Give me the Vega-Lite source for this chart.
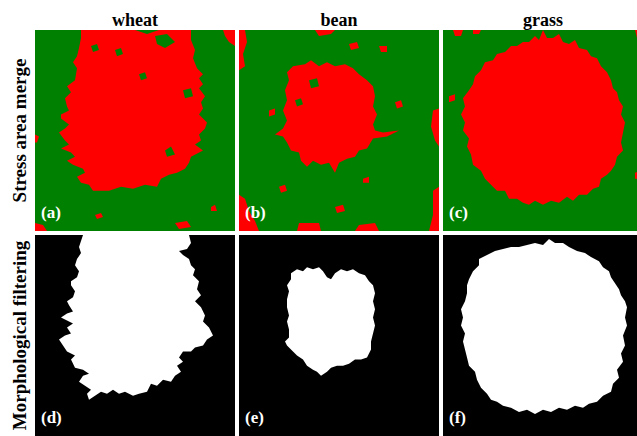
{
  "$schema": "https://vega.github.io/schema/vega-lite/v6.json",
  "background": "white",
  "padding": {"left": 10, "top": 12, "right": 0, "bottom": 0},
  "datasets": {
    "shapes": [
      {"shape": "bgA", "stage": "Stress area merge", "crop": "wheat", "layer": "bg", "cls": "healthy"},
      {"shape": "bgB", "stage": "Stress area merge", "crop": "bean", "layer": "bg", "cls": "healthy"},
      {"shape": "bgC", "stage": "Stress area merge", "crop": "grass", "layer": "bg", "cls": "healthy"},
      {"shape": "bgD", "stage": "Morphological filtering", "crop": "wheat", "layer": "bg", "cls": "background"},
      {"shape": "bgE", "stage": "Morphological filtering", "crop": "bean", "layer": "bg", "cls": "background"},
      {"shape": "bgF", "stage": "Morphological filtering", "crop": "grass", "layer": "bg", "cls": "background"},
      {"shape": "blobA", "stage": "Stress area merge", "crop": "wheat", "layer": "blob", "cls": "stressed"},
      {"shape": "blobB", "stage": "Stress area merge", "crop": "bean", "layer": "blob", "cls": "stressed"},
      {"shape": "blobC", "stage": "Stress area merge", "crop": "grass", "layer": "blob", "cls": "stressed"},
      {"shape": "blobD", "stage": "Morphological filtering", "crop": "wheat", "layer": "blob", "cls": "foreground"},
      {"shape": "blobE", "stage": "Morphological filtering", "crop": "bean", "layer": "blob", "cls": "foreground"},
      {"shape": "blobF", "stage": "Morphological filtering", "crop": "grass", "layer": "blob", "cls": "foreground"},
      {"shape": "sA1", "stage": "Stress area merge", "crop": "wheat", "layer": "speck", "cls": "stressed"},
      {"shape": "sA2", "stage": "Stress area merge", "crop": "wheat", "layer": "speck", "cls": "stressed"},
      {"shape": "sA3", "stage": "Stress area merge", "crop": "wheat", "layer": "speck", "cls": "stressed"},
      {"shape": "sA4", "stage": "Stress area merge", "crop": "wheat", "layer": "speck", "cls": "stressed"},
      {"shape": "sA5", "stage": "Stress area merge", "crop": "wheat", "layer": "speck", "cls": "stressed"},
      {"shape": "sA6", "stage": "Stress area merge", "crop": "wheat", "layer": "speck", "cls": "stressed"},
      {"shape": "hA1", "stage": "Stress area merge", "crop": "wheat", "layer": "speck", "cls": "healthy"},
      {"shape": "hA2", "stage": "Stress area merge", "crop": "wheat", "layer": "speck", "cls": "healthy"},
      {"shape": "hA3", "stage": "Stress area merge", "crop": "wheat", "layer": "speck", "cls": "healthy"},
      {"shape": "hA4", "stage": "Stress area merge", "crop": "wheat", "layer": "speck", "cls": "healthy"},
      {"shape": "hA5", "stage": "Stress area merge", "crop": "wheat", "layer": "speck", "cls": "healthy"},
      {"shape": "hA6", "stage": "Stress area merge", "crop": "wheat", "layer": "speck", "cls": "healthy"},
      {"shape": "sB1", "stage": "Stress area merge", "crop": "bean", "layer": "speck", "cls": "stressed"},
      {"shape": "sB2", "stage": "Stress area merge", "crop": "bean", "layer": "speck", "cls": "stressed"},
      {"shape": "sB3", "stage": "Stress area merge", "crop": "bean", "layer": "speck", "cls": "stressed"},
      {"shape": "sB4", "stage": "Stress area merge", "crop": "bean", "layer": "speck", "cls": "stressed"},
      {"shape": "sB5", "stage": "Stress area merge", "crop": "bean", "layer": "speck", "cls": "stressed"},
      {"shape": "sB6", "stage": "Stress area merge", "crop": "bean", "layer": "speck", "cls": "stressed"},
      {"shape": "sB7", "stage": "Stress area merge", "crop": "bean", "layer": "speck", "cls": "stressed"},
      {"shape": "sB8", "stage": "Stress area merge", "crop": "bean", "layer": "speck", "cls": "stressed"},
      {"shape": "sB9", "stage": "Stress area merge", "crop": "bean", "layer": "speck", "cls": "stressed"},
      {"shape": "sB10", "stage": "Stress area merge", "crop": "bean", "layer": "speck", "cls": "stressed"},
      {"shape": "sB11", "stage": "Stress area merge", "crop": "bean", "layer": "speck", "cls": "stressed"},
      {"shape": "sB12", "stage": "Stress area merge", "crop": "bean", "layer": "speck", "cls": "stressed"},
      {"shape": "sB13", "stage": "Stress area merge", "crop": "bean", "layer": "speck", "cls": "stressed"},
      {"shape": "sB14", "stage": "Stress area merge", "crop": "bean", "layer": "speck", "cls": "stressed"},
      {"shape": "hB1", "stage": "Stress area merge", "crop": "bean", "layer": "speck", "cls": "healthy"},
      {"shape": "hB2", "stage": "Stress area merge", "crop": "bean", "layer": "speck", "cls": "healthy"},
      {"shape": "sC1", "stage": "Stress area merge", "crop": "grass", "layer": "speck", "cls": "stressed"},
      {"shape": "sC2", "stage": "Stress area merge", "crop": "grass", "layer": "speck", "cls": "stressed"},
      {"shape": "sC3", "stage": "Stress area merge", "crop": "grass", "layer": "speck", "cls": "stressed"},
      {"shape": "sC4", "stage": "Stress area merge", "crop": "grass", "layer": "speck", "cls": "stressed"},
      {"shape": "sC5", "stage": "Stress area merge", "crop": "grass", "layer": "speck", "cls": "stressed"},
      {"shape": "labA", "stage": "Stress area merge", "crop": "wheat", "layer": "label", "label": "(a)"},
      {"shape": "labB", "stage": "Stress area merge", "crop": "bean", "layer": "label", "label": "(b)"},
      {"shape": "labC", "stage": "Stress area merge", "crop": "grass", "layer": "label", "label": "(c)"},
      {"shape": "labD", "stage": "Morphological filtering", "crop": "wheat", "layer": "label", "label": "(d)"},
      {"shape": "labE", "stage": "Morphological filtering", "crop": "bean", "layer": "label", "label": "(e)"},
      {"shape": "labF", "stage": "Morphological filtering", "crop": "grass", "layer": "label", "label": "(f)"}
    ]
  },
  "data": {
    "values": [
      {"shape": "bgA", "x": 0, "y": 0}, {"shape": "bgA", "x": 100, "y": 0}, {"shape": "bgA", "x": 100, "y": 100}, {"shape": "bgA", "x": 0, "y": 100},
      {"shape": "bgB", "x": 0, "y": 0}, {"shape": "bgB", "x": 100, "y": 0}, {"shape": "bgB", "x": 100, "y": 100}, {"shape": "bgB", "x": 0, "y": 100},
      {"shape": "bgC", "x": 0, "y": 0}, {"shape": "bgC", "x": 100, "y": 0}, {"shape": "bgC", "x": 100, "y": 100}, {"shape": "bgC", "x": 0, "y": 100},
      {"shape": "bgD", "x": 0, "y": 0}, {"shape": "bgD", "x": 100, "y": 0}, {"shape": "bgD", "x": 100, "y": 100}, {"shape": "bgD", "x": 0, "y": 100},
      {"shape": "bgE", "x": 0, "y": 0}, {"shape": "bgE", "x": 100, "y": 0}, {"shape": "bgE", "x": 100, "y": 100}, {"shape": "bgE", "x": 0, "y": 100},
      {"shape": "bgF", "x": 0, "y": 0}, {"shape": "bgF", "x": 100, "y": 0}, {"shape": "bgF", "x": 100, "y": 100}, {"shape": "bgF", "x": 0, "y": 100},

      {"shape": "blobA", "x": 23, "y": 0}, {"shape": "blobA", "x": 50, "y": 0}, {"shape": "blobA", "x": 56, "y": 2}, {"shape": "blobA", "x": 62, "y": 0},
      {"shape": "blobA", "x": 78, "y": 0}, {"shape": "blobA", "x": 78, "y": 5}, {"shape": "blobA", "x": 80, "y": 10}, {"shape": "blobA", "x": 79, "y": 14},
      {"shape": "blobA", "x": 81, "y": 19}, {"shape": "blobA", "x": 84, "y": 22}, {"shape": "blobA", "x": 82, "y": 24}, {"shape": "blobA", "x": 84, "y": 27}, {"shape": "blobA", "x": 82, "y": 29}, {"shape": "blobA", "x": 85, "y": 33},
      {"shape": "blobA", "x": 83, "y": 36}, {"shape": "blobA", "x": 84, "y": 39}, {"shape": "blobA", "x": 82, "y": 42}, {"shape": "blobA", "x": 86, "y": 46}, {"shape": "blobA", "x": 85, "y": 49}, {"shape": "blobA", "x": 82, "y": 52}, {"shape": "blobA", "x": 83, "y": 55}, {"shape": "blobA", "x": 80, "y": 57}, {"shape": "blobA", "x": 84, "y": 60},
      {"shape": "blobA", "x": 78, "y": 63}, {"shape": "blobA", "x": 77, "y": 66}, {"shape": "blobA", "x": 75, "y": 69}, {"shape": "blobA", "x": 71, "y": 71}, {"shape": "blobA", "x": 67, "y": 72}, {"shape": "blobA", "x": 63, "y": 74},
      {"shape": "blobA", "x": 61, "y": 78}, {"shape": "blobA", "x": 55, "y": 77}, {"shape": "blobA", "x": 49, "y": 79}, {"shape": "blobA", "x": 43, "y": 78}, {"shape": "blobA", "x": 37, "y": 80},
      {"shape": "blobA", "x": 29, "y": 80}, {"shape": "blobA", "x": 27, "y": 77}, {"shape": "blobA", "x": 23, "y": 76}, {"shape": "blobA", "x": 21, "y": 73}, {"shape": "blobA", "x": 25, "y": 71}, {"shape": "blobA", "x": 24, "y": 69},
      {"shape": "blobA", "x": 19, "y": 67}, {"shape": "blobA", "x": 16, "y": 65}, {"shape": "blobA", "x": 20, "y": 63}, {"shape": "blobA", "x": 18, "y": 61}, {"shape": "blobA", "x": 13, "y": 59}, {"shape": "blobA", "x": 17, "y": 57}, {"shape": "blobA", "x": 15, "y": 55},
      {"shape": "blobA", "x": 12, "y": 51}, {"shape": "blobA", "x": 15, "y": 49}, {"shape": "blobA", "x": 17, "y": 47}, {"shape": "blobA", "x": 13, "y": 44}, {"shape": "blobA", "x": 13, "y": 42}, {"shape": "blobA", "x": 17, "y": 40}, {"shape": "blobA", "x": 16, "y": 38},
      {"shape": "blobA", "x": 15, "y": 34}, {"shape": "blobA", "x": 18, "y": 31}, {"shape": "blobA", "x": 16, "y": 28}, {"shape": "blobA", "x": 20, "y": 25},
      {"shape": "blobA", "x": 21, "y": 19}, {"shape": "blobA", "x": 19, "y": 16}, {"shape": "blobA", "x": 21, "y": 13}, {"shape": "blobA", "x": 22, "y": 9}, {"shape": "blobA", "x": 23, "y": 4},

      {"shape": "blobB", "x": 27, "y": 18}, {"shape": "blobB", "x": 33, "y": 17}, {"shape": "blobB", "x": 36, "y": 15}, {"shape": "blobB", "x": 40, "y": 18},
      {"shape": "blobB", "x": 44, "y": 16}, {"shape": "blobB", "x": 48, "y": 18}, {"shape": "blobB", "x": 53, "y": 17}, {"shape": "blobB", "x": 57, "y": 19},
      {"shape": "blobB", "x": 60, "y": 22}, {"shape": "blobB", "x": 64, "y": 25}, {"shape": "blobB", "x": 67, "y": 28}, {"shape": "blobB", "x": 68, "y": 33},
      {"shape": "blobB", "x": 67, "y": 38}, {"shape": "blobB", "x": 69, "y": 42}, {"shape": "blobB", "x": 67, "y": 47}, {"shape": "blobB", "x": 68, "y": 50},
      {"shape": "blobB", "x": 72, "y": 51}, {"shape": "blobB", "x": 80, "y": 50}, {"shape": "blobB", "x": 74, "y": 53}, {"shape": "blobB", "x": 67, "y": 54},
      {"shape": "blobB", "x": 64, "y": 59}, {"shape": "blobB", "x": 60, "y": 60}, {"shape": "blobB", "x": 58, "y": 63}, {"shape": "blobB", "x": 54, "y": 64},
      {"shape": "blobB", "x": 50, "y": 66}, {"shape": "blobB", "x": 48, "y": 71}, {"shape": "blobB", "x": 45, "y": 66}, {"shape": "blobB", "x": 41, "y": 67},
      {"shape": "blobB", "x": 37, "y": 65}, {"shape": "blobB", "x": 34, "y": 68}, {"shape": "blobB", "x": 31, "y": 65}, {"shape": "blobB", "x": 30, "y": 61},
      {"shape": "blobB", "x": 26, "y": 60}, {"shape": "blobB", "x": 24, "y": 56}, {"shape": "blobB", "x": 22, "y": 53}, {"shape": "blobB", "x": 18, "y": 52},
      {"shape": "blobB", "x": 22, "y": 49}, {"shape": "blobB", "x": 24, "y": 45}, {"shape": "blobB", "x": 22, "y": 40}, {"shape": "blobB", "x": 24, "y": 35},
      {"shape": "blobB", "x": 23, "y": 30}, {"shape": "blobB", "x": 25, "y": 25}, {"shape": "blobB", "x": 24, "y": 21},

      {"shape": "blobC", "x": 91, "y": 46}, {"shape": "blobC", "x": 90, "y": 51}, {"shape": "blobC", "x": 89, "y": 56}, {"shape": "blobC", "x": 90, "y": 60},
      {"shape": "blobC", "x": 87, "y": 63}, {"shape": "blobC", "x": 86, "y": 67}, {"shape": "blobC", "x": 84, "y": 70}, {"shape": "blobC", "x": 82, "y": 72},
      {"shape": "blobC", "x": 79, "y": 74}, {"shape": "blobC", "x": 78, "y": 78}, {"shape": "blobC", "x": 75, "y": 79}, {"shape": "blobC", "x": 72, "y": 82},
      {"shape": "blobC", "x": 68, "y": 82}, {"shape": "blobC", "x": 65, "y": 85}, {"shape": "blobC", "x": 62, "y": 83}, {"shape": "blobC", "x": 58, "y": 86},
      {"shape": "blobC", "x": 54, "y": 85}, {"shape": "blobC", "x": 50, "y": 87}, {"shape": "blobC", "x": 46, "y": 85}, {"shape": "blobC", "x": 43, "y": 87},
      {"shape": "blobC", "x": 40, "y": 86}, {"shape": "blobC", "x": 37, "y": 84}, {"shape": "blobC", "x": 33, "y": 84}, {"shape": "blobC", "x": 31, "y": 80},
      {"shape": "blobC", "x": 27, "y": 80}, {"shape": "blobC", "x": 24, "y": 77}, {"shape": "blobC", "x": 21, "y": 74}, {"shape": "blobC", "x": 19, "y": 70},
      {"shape": "blobC", "x": 15, "y": 67}, {"shape": "blobC", "x": 14, "y": 62}, {"shape": "blobC", "x": 12, "y": 58}, {"shape": "blobC", "x": 13, "y": 54},
      {"shape": "blobC", "x": 10, "y": 50}, {"shape": "blobC", "x": 11, "y": 46}, {"shape": "blobC", "x": 9, "y": 42}, {"shape": "blobC", "x": 11, "y": 38},
      {"shape": "blobC", "x": 10, "y": 34}, {"shape": "blobC", "x": 13, "y": 30}, {"shape": "blobC", "x": 15, "y": 27}, {"shape": "blobC", "x": 16, "y": 23},
      {"shape": "blobC", "x": 19, "y": 20}, {"shape": "blobC", "x": 21, "y": 16}, {"shape": "blobC", "x": 25, "y": 15}, {"shape": "blobC", "x": 27, "y": 12},
      {"shape": "blobC", "x": 31, "y": 11}, {"shape": "blobC", "x": 34, "y": 8}, {"shape": "blobC", "x": 37, "y": 8}, {"shape": "blobC", "x": 40, "y": 6},
      {"shape": "blobC", "x": 43, "y": 6}, {"shape": "blobC", "x": 46, "y": 3}, {"shape": "blobC", "x": 48, "y": 5}, {"shape": "blobC", "x": 50, "y": 0},
      {"shape": "blobC", "x": 52, "y": 4}, {"shape": "blobC", "x": 55, "y": 4}, {"shape": "blobC", "x": 58, "y": 2}, {"shape": "blobC", "x": 60, "y": 6},
      {"shape": "blobC", "x": 63, "y": 7}, {"shape": "blobC", "x": 66, "y": 5}, {"shape": "blobC", "x": 68, "y": 9}, {"shape": "blobC", "x": 72, "y": 10},
      {"shape": "blobC", "x": 74, "y": 13}, {"shape": "blobC", "x": 77, "y": 14}, {"shape": "blobC", "x": 79, "y": 18}, {"shape": "blobC", "x": 82, "y": 21},
      {"shape": "blobC", "x": 84, "y": 25}, {"shape": "blobC", "x": 85, "y": 29}, {"shape": "blobC", "x": 87, "y": 31}, {"shape": "blobC", "x": 88, "y": 35},
      {"shape": "blobC", "x": 90, "y": 38}, {"shape": "blobC", "x": 89, "y": 42},

      {"shape": "blobD", "x": 24, "y": 0}, {"shape": "blobD", "x": 77, "y": 0}, {"shape": "blobD", "x": 78, "y": 4}, {"shape": "blobD", "x": 76, "y": 7},
      {"shape": "blobD", "x": 72, "y": 8}, {"shape": "blobD", "x": 74, "y": 10}, {"shape": "blobD", "x": 77, "y": 12}, {"shape": "blobD", "x": 78, "y": 15},
      {"shape": "blobD", "x": 80, "y": 17}, {"shape": "blobD", "x": 79, "y": 20}, {"shape": "blobD", "x": 82, "y": 23}, {"shape": "blobD", "x": 81, "y": 27},
      {"shape": "blobD", "x": 83, "y": 30}, {"shape": "blobD", "x": 80, "y": 33}, {"shape": "blobD", "x": 83, "y": 36}, {"shape": "blobD", "x": 85, "y": 40},
      {"shape": "blobD", "x": 84, "y": 43}, {"shape": "blobD", "x": 87, "y": 46}, {"shape": "blobD", "x": 89, "y": 50}, {"shape": "blobD", "x": 86, "y": 52},
      {"shape": "blobD", "x": 84, "y": 55}, {"shape": "blobD", "x": 80, "y": 56}, {"shape": "blobD", "x": 78, "y": 58}, {"shape": "blobD", "x": 74, "y": 58},
      {"shape": "blobD", "x": 72, "y": 61}, {"shape": "blobD", "x": 74, "y": 63}, {"shape": "blobD", "x": 71, "y": 65}, {"shape": "blobD", "x": 73, "y": 68},
      {"shape": "blobD", "x": 70, "y": 70}, {"shape": "blobD", "x": 68, "y": 73}, {"shape": "blobD", "x": 64, "y": 72}, {"shape": "blobD", "x": 61, "y": 75},
      {"shape": "blobD", "x": 58, "y": 74}, {"shape": "blobD", "x": 56, "y": 78}, {"shape": "blobD", "x": 52, "y": 79}, {"shape": "blobD", "x": 49, "y": 80},
      {"shape": "blobD", "x": 45, "y": 78}, {"shape": "blobD", "x": 42, "y": 79}, {"shape": "blobD", "x": 39, "y": 77}, {"shape": "blobD", "x": 36, "y": 79},
      {"shape": "blobD", "x": 33, "y": 78}, {"shape": "blobD", "x": 30, "y": 80}, {"shape": "blobD", "x": 27, "y": 82}, {"shape": "blobD", "x": 26, "y": 79},
      {"shape": "blobD", "x": 28, "y": 77}, {"shape": "blobD", "x": 25, "y": 75}, {"shape": "blobD", "x": 22, "y": 73}, {"shape": "blobD", "x": 24, "y": 70},
      {"shape": "blobD", "x": 27, "y": 69}, {"shape": "blobD", "x": 24, "y": 67}, {"shape": "blobD", "x": 20, "y": 66}, {"shape": "blobD", "x": 18, "y": 62},
      {"shape": "blobD", "x": 20, "y": 60}, {"shape": "blobD", "x": 16, "y": 58}, {"shape": "blobD", "x": 14, "y": 55}, {"shape": "blobD", "x": 12, "y": 52},
      {"shape": "blobD", "x": 15, "y": 50}, {"shape": "blobD", "x": 18, "y": 49}, {"shape": "blobD", "x": 16, "y": 46}, {"shape": "blobD", "x": 19, "y": 44},
      {"shape": "blobD", "x": 15, "y": 42}, {"shape": "blobD", "x": 13, "y": 41}, {"shape": "blobD", "x": 16, "y": 39}, {"shape": "blobD", "x": 19, "y": 38},
      {"shape": "blobD", "x": 17, "y": 35}, {"shape": "blobD", "x": 16, "y": 33}, {"shape": "blobD", "x": 19, "y": 31}, {"shape": "blobD", "x": 20, "y": 28},
      {"shape": "blobD", "x": 18, "y": 25}, {"shape": "blobD", "x": 18, "y": 23}, {"shape": "blobD", "x": 21, "y": 21}, {"shape": "blobD", "x": 22, "y": 18},
      {"shape": "blobD", "x": 20, "y": 15}, {"shape": "blobD", "x": 21, "y": 12}, {"shape": "blobD", "x": 23, "y": 9}, {"shape": "blobD", "x": 22, "y": 6},
      {"shape": "blobD", "x": 23, "y": 3},

      {"shape": "blobE", "x": 26, "y": 19}, {"shape": "blobE", "x": 29, "y": 17}, {"shape": "blobE", "x": 32, "y": 18}, {"shape": "blobE", "x": 34, "y": 16},
      {"shape": "blobE", "x": 37, "y": 17}, {"shape": "blobE", "x": 40, "y": 16}, {"shape": "blobE", "x": 42, "y": 18}, {"shape": "blobE", "x": 44, "y": 21},
      {"shape": "blobE", "x": 46, "y": 22}, {"shape": "blobE", "x": 48, "y": 19}, {"shape": "blobE", "x": 51, "y": 17}, {"shape": "blobE", "x": 54, "y": 18},
      {"shape": "blobE", "x": 57, "y": 17}, {"shape": "blobE", "x": 60, "y": 19}, {"shape": "blobE", "x": 63, "y": 20}, {"shape": "blobE", "x": 65, "y": 23},
      {"shape": "blobE", "x": 67, "y": 25}, {"shape": "blobE", "x": 68, "y": 29}, {"shape": "blobE", "x": 67, "y": 33}, {"shape": "blobE", "x": 68, "y": 37},
      {"shape": "blobE", "x": 67, "y": 41}, {"shape": "blobE", "x": 68, "y": 45}, {"shape": "blobE", "x": 67, "y": 49}, {"shape": "blobE", "x": 66, "y": 53},
      {"shape": "blobE", "x": 66, "y": 57}, {"shape": "blobE", "x": 64, "y": 61}, {"shape": "blobE", "x": 61, "y": 62}, {"shape": "blobE", "x": 58, "y": 62},
      {"shape": "blobE", "x": 55, "y": 64}, {"shape": "blobE", "x": 52, "y": 65}, {"shape": "blobE", "x": 49, "y": 65}, {"shape": "blobE", "x": 46, "y": 66},
      {"shape": "blobE", "x": 44, "y": 68}, {"shape": "blobE", "x": 41, "y": 70}, {"shape": "blobE", "x": 39, "y": 68}, {"shape": "blobE", "x": 37, "y": 67},
      {"shape": "blobE", "x": 34, "y": 65}, {"shape": "blobE", "x": 32, "y": 62}, {"shape": "blobE", "x": 29, "y": 60}, {"shape": "blobE", "x": 27, "y": 58},
      {"shape": "blobE", "x": 24, "y": 55}, {"shape": "blobE", "x": 23, "y": 53}, {"shape": "blobE", "x": 25, "y": 51}, {"shape": "blobE", "x": 25, "y": 47},
      {"shape": "blobE", "x": 24, "y": 43}, {"shape": "blobE", "x": 25, "y": 40}, {"shape": "blobE", "x": 24, "y": 36}, {"shape": "blobE", "x": 24, "y": 32},
      {"shape": "blobE", "x": 25, "y": 28}, {"shape": "blobE", "x": 24, "y": 25}, {"shape": "blobE", "x": 26, "y": 22},

      {"shape": "blobF", "x": 92, "y": 36}, {"shape": "blobF", "x": 91, "y": 41}, {"shape": "blobF", "x": 92, "y": 45}, {"shape": "blobF", "x": 90, "y": 50},
      {"shape": "blobF", "x": 91, "y": 55}, {"shape": "blobF", "x": 89, "y": 59}, {"shape": "blobF", "x": 90, "y": 63}, {"shape": "blobF", "x": 87, "y": 67},
      {"shape": "blobF", "x": 88, "y": 71}, {"shape": "blobF", "x": 85, "y": 74}, {"shape": "blobF", "x": 84, "y": 78}, {"shape": "blobF", "x": 80, "y": 80},
      {"shape": "blobF", "x": 77, "y": 83}, {"shape": "blobF", "x": 73, "y": 84}, {"shape": "blobF", "x": 70, "y": 86}, {"shape": "blobF", "x": 66, "y": 85},
      {"shape": "blobF", "x": 62, "y": 87}, {"shape": "blobF", "x": 58, "y": 86}, {"shape": "blobF", "x": 54, "y": 88}, {"shape": "blobF", "x": 50, "y": 87},
      {"shape": "blobF", "x": 46, "y": 89}, {"shape": "blobF", "x": 42, "y": 87}, {"shape": "blobF", "x": 38, "y": 88}, {"shape": "blobF", "x": 34, "y": 86},
      {"shape": "blobF", "x": 30, "y": 85}, {"shape": "blobF", "x": 27, "y": 83}, {"shape": "blobF", "x": 24, "y": 82}, {"shape": "blobF", "x": 22, "y": 79},
      {"shape": "blobF", "x": 19, "y": 76}, {"shape": "blobF", "x": 17, "y": 72}, {"shape": "blobF", "x": 16, "y": 68}, {"shape": "blobF", "x": 13, "y": 65},
      {"shape": "blobF", "x": 12, "y": 61}, {"shape": "blobF", "x": 11, "y": 57}, {"shape": "blobF", "x": 10, "y": 53}, {"shape": "blobF", "x": 11, "y": 49},
      {"shape": "blobF", "x": 9, "y": 45}, {"shape": "blobF", "x": 10, "y": 41}, {"shape": "blobF", "x": 9, "y": 37}, {"shape": "blobF", "x": 11, "y": 33},
      {"shape": "blobF", "x": 12, "y": 29}, {"shape": "blobF", "x": 12, "y": 25}, {"shape": "blobF", "x": 13, "y": 22}, {"shape": "blobF", "x": 15, "y": 18},
      {"shape": "blobF", "x": 18, "y": 15}, {"shape": "blobF", "x": 18, "y": 12}, {"shape": "blobF", "x": 22, "y": 10}, {"shape": "blobF", "x": 26, "y": 8},
      {"shape": "blobF", "x": 30, "y": 7}, {"shape": "blobF", "x": 34, "y": 6}, {"shape": "blobF", "x": 38, "y": 6}, {"shape": "blobF", "x": 42, "y": 5},
      {"shape": "blobF", "x": 46, "y": 4}, {"shape": "blobF", "x": 50, "y": 5}, {"shape": "blobF", "x": 53, "y": 2}, {"shape": "blobF", "x": 56, "y": 4},
      {"shape": "blobF", "x": 60, "y": 4}, {"shape": "blobF", "x": 63, "y": 6}, {"shape": "blobF", "x": 67, "y": 8}, {"shape": "blobF", "x": 71, "y": 9},
      {"shape": "blobF", "x": 74, "y": 11}, {"shape": "blobF", "x": 78, "y": 13}, {"shape": "blobF", "x": 80, "y": 16}, {"shape": "blobF", "x": 83, "y": 18},
      {"shape": "blobF", "x": 84, "y": 21}, {"shape": "blobF", "x": 86, "y": 24}, {"shape": "blobF", "x": 88, "y": 27}, {"shape": "blobF", "x": 89, "y": 30},
      {"shape": "blobF", "x": 91, "y": 33},

      {"shape": "sA1", "x": 0, "y": 96}, {"shape": "sA1", "x": 4, "y": 97}, {"shape": "sA1", "x": 6, "y": 100}, {"shape": "sA1", "x": 0, "y": 100},
      {"shape": "sA2", "x": 94, "y": 0}, {"shape": "sA2", "x": 100, "y": 0}, {"shape": "sA2", "x": 100, "y": 8}, {"shape": "sA2", "x": 97, "y": 6}, {"shape": "sA2", "x": 95, "y": 3},
      {"shape": "sA3", "x": 30, "y": 92}, {"shape": "sA3", "x": 33, "y": 91}, {"shape": "sA3", "x": 34, "y": 93}, {"shape": "sA3", "x": 31, "y": 94},
      {"shape": "sA4", "x": 70, "y": 96}, {"shape": "sA4", "x": 76, "y": 95}, {"shape": "sA4", "x": 78, "y": 98}, {"shape": "sA4", "x": 72, "y": 99},
      {"shape": "sA5", "x": 0, "y": 52}, {"shape": "sA5", "x": 2, "y": 53}, {"shape": "sA5", "x": 1, "y": 56}, {"shape": "sA5", "x": 0, "y": 56},
      {"shape": "sA6", "x": 88, "y": 88}, {"shape": "sA6", "x": 90, "y": 87}, {"shape": "sA6", "x": 91, "y": 90}, {"shape": "sA6", "x": 88, "y": 90},
      {"shape": "hA1", "x": 60, "y": 3}, {"shape": "hA1", "x": 66, "y": 2}, {"shape": "hA1", "x": 70, "y": 6}, {"shape": "hA1", "x": 65, "y": 9}, {"shape": "hA1", "x": 61, "y": 7},
      {"shape": "hA2", "x": 40, "y": 10}, {"shape": "hA2", "x": 43, "y": 9}, {"shape": "hA2", "x": 44, "y": 12}, {"shape": "hA2", "x": 41, "y": 13},
      {"shape": "hA3", "x": 74, "y": 30}, {"shape": "hA3", "x": 78, "y": 29}, {"shape": "hA3", "x": 79, "y": 33}, {"shape": "hA3", "x": 75, "y": 34},
      {"shape": "hA4", "x": 52, "y": 22}, {"shape": "hA4", "x": 55, "y": 21}, {"shape": "hA4", "x": 56, "y": 24}, {"shape": "hA4", "x": 53, "y": 25},
      {"shape": "hA5", "x": 28, "y": 8}, {"shape": "hA5", "x": 31, "y": 7}, {"shape": "hA5", "x": 32, "y": 10}, {"shape": "hA5", "x": 29, "y": 11},
      {"shape": "hA6", "x": 65, "y": 60}, {"shape": "hA6", "x": 68, "y": 58}, {"shape": "hA6", "x": 70, "y": 62}, {"shape": "hA6", "x": 66, "y": 63},

      {"shape": "sB1", "x": 0, "y": 0}, {"shape": "sB1", "x": 3, "y": 0}, {"shape": "sB1", "x": 4, "y": 6}, {"shape": "sB1", "x": 2, "y": 12}, {"shape": "sB1", "x": 3, "y": 18}, {"shape": "sB1", "x": 0, "y": 20},
      {"shape": "sB2", "x": 0, "y": 82}, {"shape": "sB2", "x": 3, "y": 84}, {"shape": "sB2", "x": 5, "y": 90}, {"shape": "sB2", "x": 8, "y": 95}, {"shape": "sB2", "x": 10, "y": 100}, {"shape": "sB2", "x": 0, "y": 100},
      {"shape": "sB3", "x": 97, "y": 40}, {"shape": "sB3", "x": 100, "y": 39}, {"shape": "sB3", "x": 100, "y": 58}, {"shape": "sB3", "x": 98, "y": 55}, {"shape": "sB3", "x": 96, "y": 48},
      {"shape": "sB4", "x": 97, "y": 80}, {"shape": "sB4", "x": 100, "y": 78}, {"shape": "sB4", "x": 100, "y": 100}, {"shape": "sB4", "x": 95, "y": 100}, {"shape": "sB4", "x": 97, "y": 92},
      {"shape": "sB5", "x": 38, "y": 0}, {"shape": "sB5", "x": 48, "y": 0}, {"shape": "sB5", "x": 46, "y": 2}, {"shape": "sB5", "x": 40, "y": 3},
      {"shape": "sB6", "x": 15, "y": 40}, {"shape": "sB6", "x": 18, "y": 39}, {"shape": "sB6", "x": 18, "y": 42}, {"shape": "sB6", "x": 15, "y": 43},
      {"shape": "sB7", "x": 55, "y": 7}, {"shape": "sB7", "x": 59, "y": 6}, {"shape": "sB7", "x": 60, "y": 9}, {"shape": "sB7", "x": 56, "y": 10},
      {"shape": "sB8", "x": 70, "y": 8}, {"shape": "sB8", "x": 74, "y": 8}, {"shape": "sB8", "x": 74, "y": 11}, {"shape": "sB8", "x": 71, "y": 11},
      {"shape": "sB9", "x": 78, "y": 36}, {"shape": "sB9", "x": 81, "y": 35}, {"shape": "sB9", "x": 82, "y": 38}, {"shape": "sB9", "x": 79, "y": 39},
      {"shape": "sB10", "x": 20, "y": 78}, {"shape": "sB10", "x": 23, "y": 77}, {"shape": "sB10", "x": 24, "y": 80}, {"shape": "sB10", "x": 21, "y": 81},
      {"shape": "sB11", "x": 48, "y": 88}, {"shape": "sB11", "x": 52, "y": 87}, {"shape": "sB11", "x": 53, "y": 90}, {"shape": "sB11", "x": 49, "y": 91},
      {"shape": "sB12", "x": 62, "y": 74}, {"shape": "sB12", "x": 65, "y": 73}, {"shape": "sB12", "x": 65, "y": 76}, {"shape": "sB12", "x": 62, "y": 76},
      {"shape": "sB13", "x": 30, "y": 96}, {"shape": "sB13", "x": 40, "y": 96}, {"shape": "sB13", "x": 41, "y": 100}, {"shape": "sB13", "x": 29, "y": 100},
      {"shape": "sB14", "x": 60, "y": 97}, {"shape": "sB14", "x": 68, "y": 96}, {"shape": "sB14", "x": 70, "y": 100}, {"shape": "sB14", "x": 58, "y": 100},
      {"shape": "hB1", "x": 35, "y": 25}, {"shape": "hB1", "x": 39, "y": 24}, {"shape": "hB1", "x": 40, "y": 28}, {"shape": "hB1", "x": 36, "y": 29},
      {"shape": "hB2", "x": 28, "y": 35}, {"shape": "hB2", "x": 31, "y": 34}, {"shape": "hB2", "x": 32, "y": 37}, {"shape": "hB2", "x": 29, "y": 38},

      {"shape": "sC1", "x": 5, "y": 0}, {"shape": "sC1", "x": 10, "y": 0}, {"shape": "sC1", "x": 9, "y": 3}, {"shape": "sC1", "x": 6, "y": 3},
      {"shape": "sC2", "x": 3, "y": 33}, {"shape": "sC2", "x": 6, "y": 32}, {"shape": "sC2", "x": 6, "y": 35}, {"shape": "sC2", "x": 3, "y": 36},
      {"shape": "sC3", "x": 96, "y": 71}, {"shape": "sC3", "x": 99, "y": 70}, {"shape": "sC3", "x": 99, "y": 74}, {"shape": "sC3", "x": 96, "y": 74},
      {"shape": "sC4", "x": 15, "y": 0}, {"shape": "sC4", "x": 19, "y": 0}, {"shape": "sC4", "x": 18, "y": 2}, {"shape": "sC4", "x": 15, "y": 2},
      {"shape": "sC5", "x": 96, "y": 0}, {"shape": "sC5", "x": 100, "y": 0}, {"shape": "sC5", "x": 100, "y": 6}, {"shape": "sC5", "x": 97, "y": 4},

      {"shape": "labA", "x": 3, "y": 91}, {"shape": "labB", "x": 3, "y": 91}, {"shape": "labC", "x": 3, "y": 91},
      {"shape": "labD", "x": 3, "y": 91}, {"shape": "labE", "x": 3, "y": 91}, {"shape": "labF", "x": 3, "y": 91}
    ]
  },
  "transform": [
    {"lookup": "shape", "from": {"data": {"name": "shapes"}, "key": "shape", "fields": ["stage", "crop", "layer", "cls", "label"]}}
  ],
  "spacing": 4,
  "facet": {
    "column": {
      "field": "crop", "type": "nominal", "sort": ["wheat", "bean", "grass"],
      "header": {"title": null, "labelFont": "Liberation Serif", "labelFontSize": 18, "labelFontWeight": "bold", "labelColor": "#000000", "labelPadding": 0}
    },
    "row": {
      "field": "stage", "type": "nominal", "sort": ["Stress area merge", "Morphological filtering"],
      "header": {"title": null, "labelAngle": -90, "labelFont": "Liberation Serif", "labelFontSize": 19, "labelFontWeight": "bold", "labelColor": "#000000", "labelPadding": -4}
    }
  },
  "spec": {
    "width": 200,
    "height": 201,
    "encoding": {
      "x": {"field": "x", "type": "quantitative", "scale": {"domain": [0, 100], "nice": false, "zero": false}, "axis": null},
      "y": {"field": "y", "type": "quantitative", "scale": {"domain": [0, 100], "nice": false, "zero": false, "reverse": true}, "axis": null}
    },
    "layer": [
      {
        "transform": [{"filter": "datum.layer == 'bg'"}],
        "mark": {"type": "line", "filled": true, "interpolate": "linear"},
        "encoding": {
          "detail": {"field": "shape"},
          "order": {"value": null},
          "color": {"field": "cls", "type": "nominal", "scale": {"domain": ["healthy", "stressed", "background", "foreground"], "range": ["#008000", "#ff0000", "#000000", "#ffffff"]}, "legend": null}
        }
      },
      {
        "transform": [{"filter": "datum.layer == 'blob'"}],
        "mark": {"type": "line", "filled": true, "interpolate": "linear"},
        "encoding": {
          "detail": {"field": "shape"},
          "order": {"value": null},
          "color": {"field": "cls", "type": "nominal", "scale": {"domain": ["healthy", "stressed", "background", "foreground"], "range": ["#008000", "#ff0000", "#000000", "#ffffff"]}, "legend": null}
        }
      },
      {
        "transform": [{"filter": "datum.layer == 'speck'"}],
        "mark": {"type": "line", "filled": true, "interpolate": "linear"},
        "encoding": {
          "detail": {"field": "shape"},
          "order": {"value": null},
          "color": {"field": "cls", "type": "nominal", "scale": {"domain": ["healthy", "stressed", "background", "foreground"], "range": ["#008000", "#ff0000", "#000000", "#ffffff"]}, "legend": null}
        }
      },
      {
        "transform": [{"filter": "datum.layer == 'label'"}],
        "mark": {"type": "text", "align": "left", "baseline": "middle", "font": "Liberation Serif", "fontSize": 17, "fontWeight": "bold", "color": "#ffffff"},
        "encoding": {"text": {"field": "label"}}
      }
    ]
  },
  "config": {"view": {"stroke": null}}
}
